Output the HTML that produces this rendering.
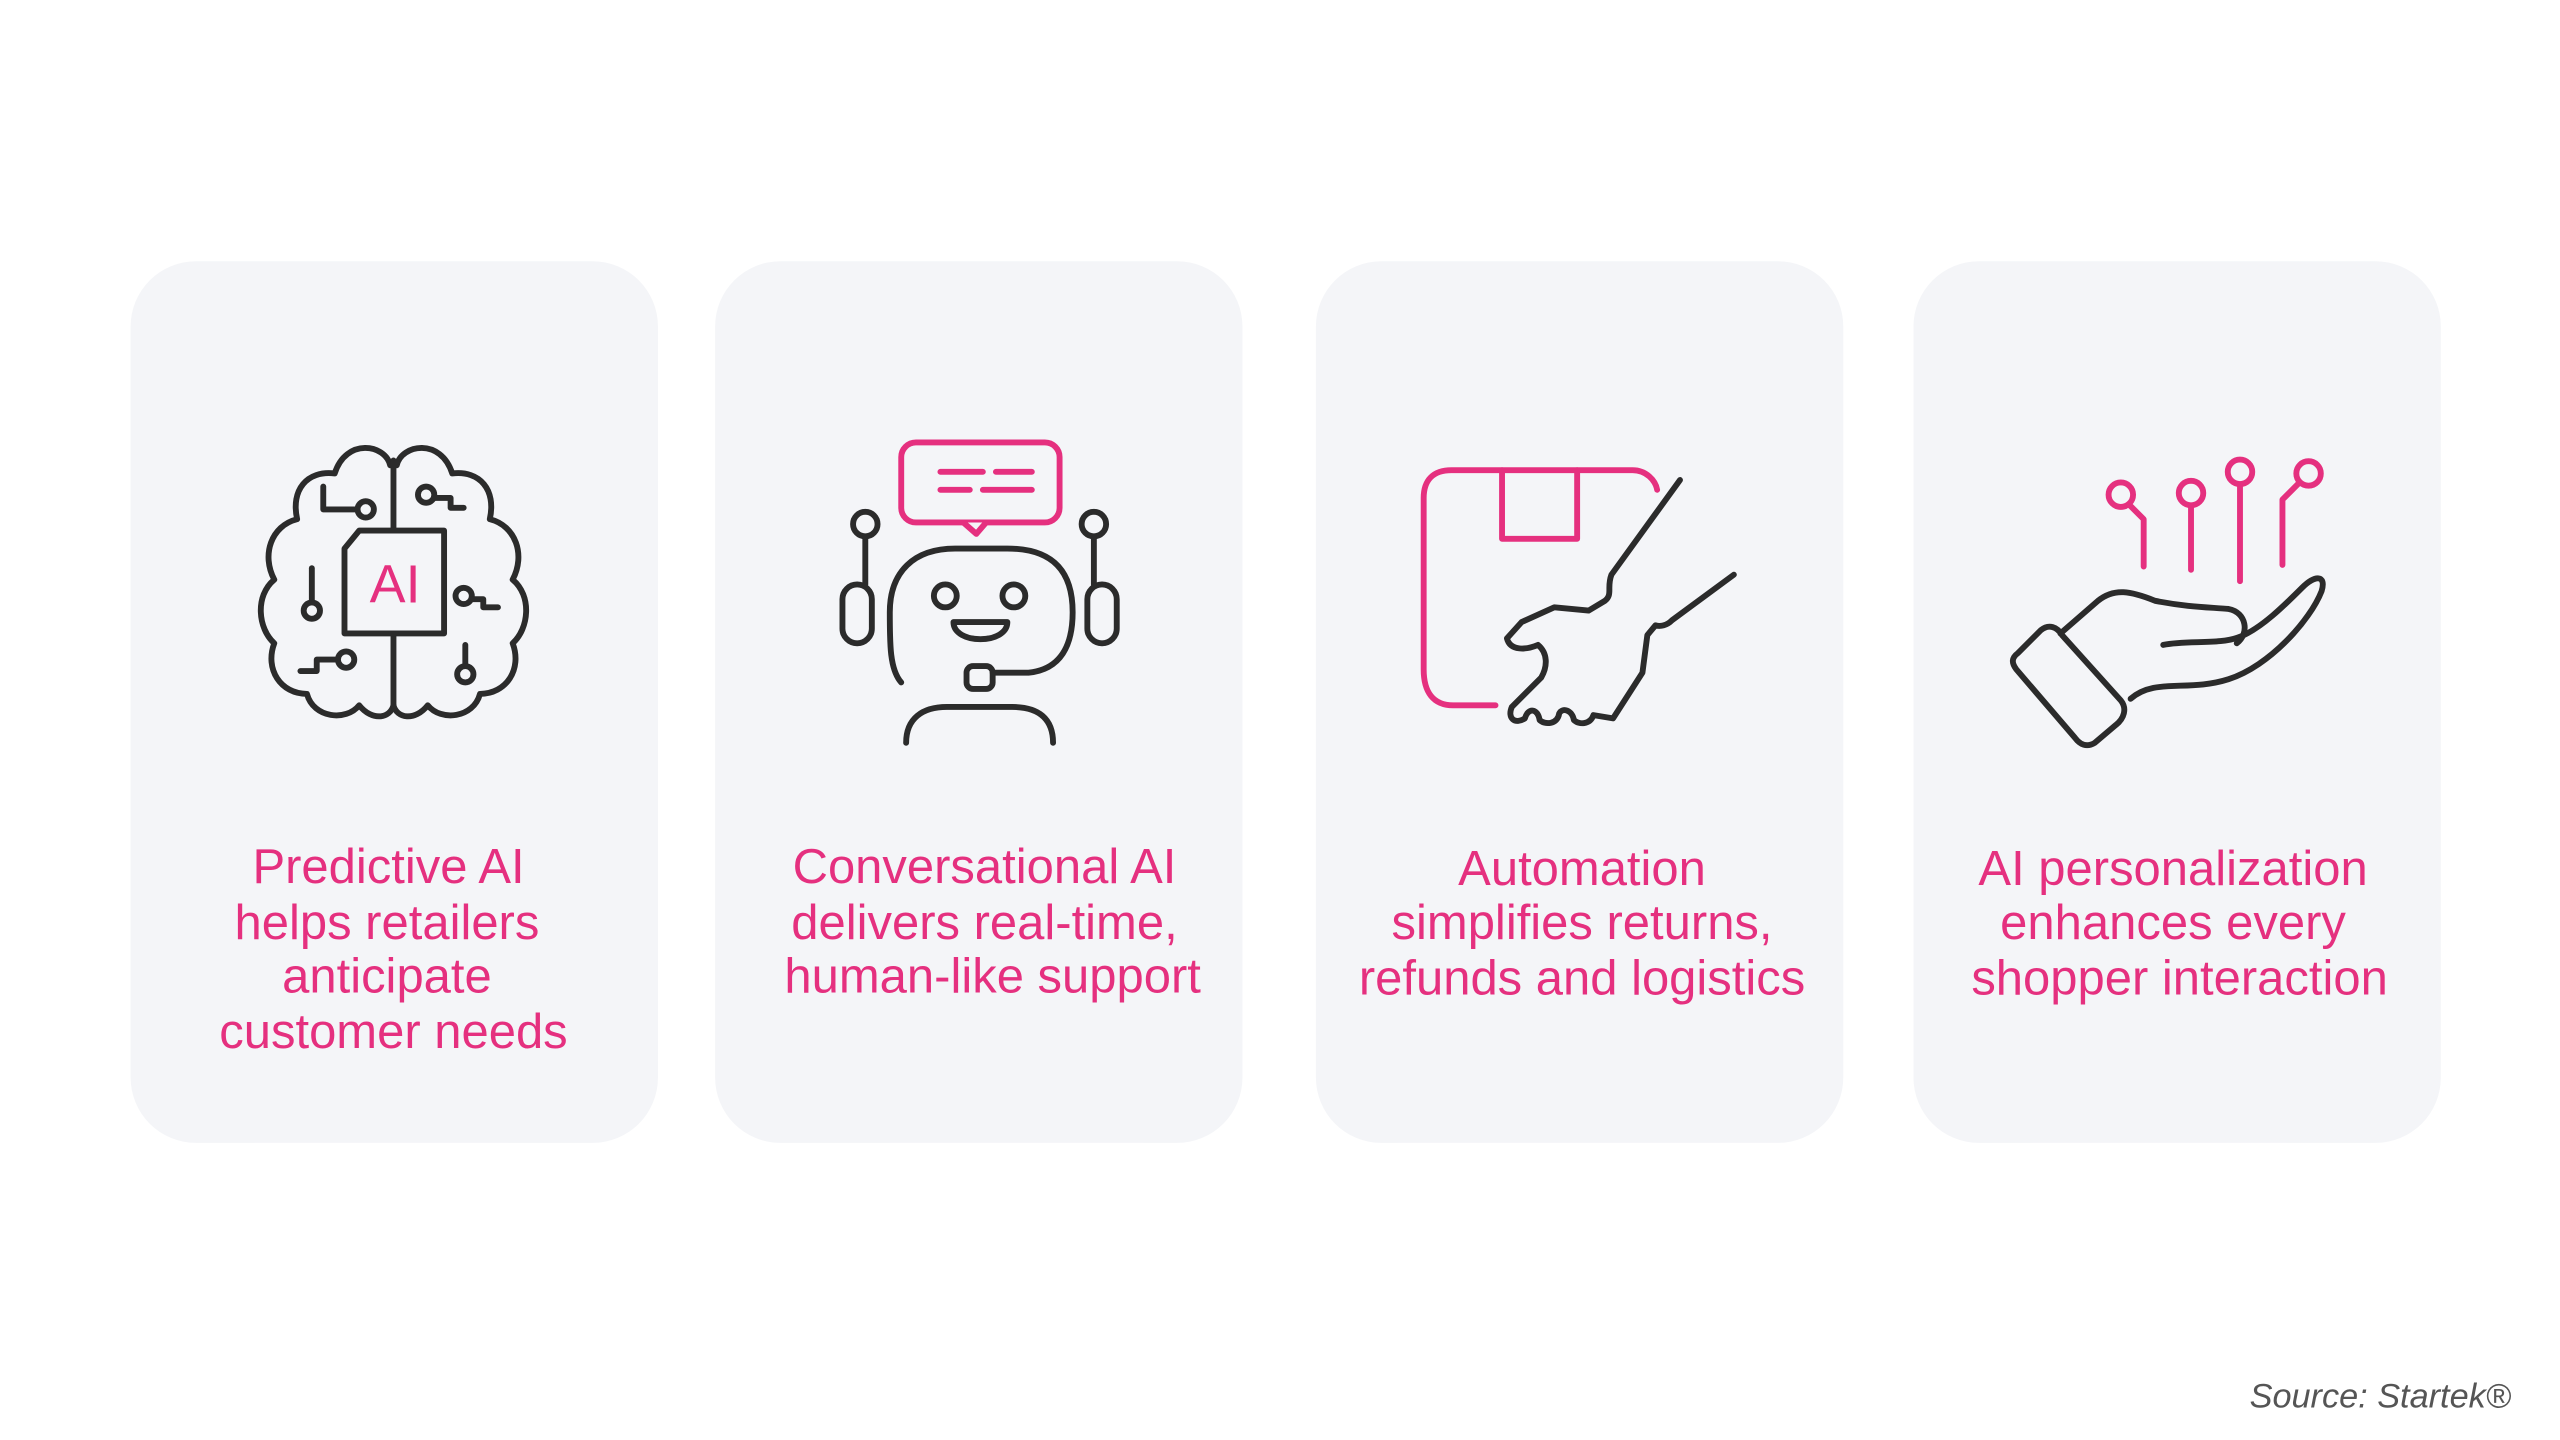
<!DOCTYPE html>
<html><head><meta charset="utf-8"><style>
html,body{margin:0;padding:0;background:#fff;}
svg{display:block}
text{font-family:"Liberation Sans",sans-serif;}
</style></head><body>
<svg width="2560" height="1440" viewBox="0 0 1568 882" preserveAspectRatio="none" xmlns="http://www.w3.org/2000/svg">
<rect width="1568" height="882" fill="#fff"/>
<g fill="#f4f5f8">
<rect x="80" y="160" width="323" height="540" rx="40"/>
<rect x="438" y="160" width="323" height="540" rx="40"/>
<rect x="806" y="160" width="323" height="540" rx="40"/>
<rect x="1172" y="160" width="323" height="540" rx="40"/>
</g>
<g fill="none" stroke="#2b2b2b" stroke-width="3.6" stroke-linecap="round" stroke-linejoin="round">
<path d="M239,285 C236,272 212,268 205,290 C188,288 178,300 182,318 C166,322 160,340 168,355 C156,365 158,385 168,394 C162,410 172,425 188,425 C192,440 212,442 220,432 C228,442 239,440 241,432"/>
<path d="M243,285 C246,272 270,268 277,290 C294,288 304,300 300,318 C316,322 322,340 314,355 C326,365 324,385 314,394 C320,410 310,425 294,425 C290,440 270,442 262,432 C254,442 243,440 241,432"/>
<path d="M241,282 V325 M241,388 V432"/>
<path d="M220,325 H272 V388 H211 V336 Z"/>
<path d="M198,298 V312 H218"/><circle cx="224" cy="312" r="5"/>
<circle cx="261" cy="303" r="5"/><path d="M266,305 H276 V311 H284"/>
<path d="M191,348 V368"/><circle cx="191" cy="374" r="5"/>
<circle cx="284" cy="365" r="5"/><path d="M289,367 H296 V372 H305"/>
<path d="M184,411 H194 V404 H206"/><circle cx="212" cy="404" r="5"/>
<path d="M285,395 V407"/><circle cx="285" cy="413" r="5"/>
<path d="M552,418 C545,410 545,395 545,375 C545,350 560,336 585,336 H617 C645,336 657,350 657,375 C657,395 650,410 630,412 H608"/>
<circle cx="579" cy="365" r="7"/><circle cx="621" cy="365" r="7"/>
<path d="M584,381 H617 C617,395 584,395 584,381 Z"/>
<rect x="516" y="358" width="18" height="36" rx="9"/><rect x="666" y="358" width="18" height="36" rx="9"/>
<path d="M530,329 V358 M670,329 V358"/><circle cx="530" cy="321" r="7.5"/><circle cx="670" cy="321" r="7.5"/>
<rect x="592" y="408" width="16" height="14" rx="4"/>
<path d="M555,455 C555,440 565,433 580,433 H620 C636,433 645,440 645,455"/>
<path d="M1029,294 L987,352 C984,360 988,364 983,368 L973,374 L952,372 L932,381 L923,391 C925,399 935,398 942,395 C948,400 948,408 944,415 L926,433 C923,440 928,444 934,440 C936,433 942,434 943,441 C946,444 954,444 955,437 C957,433 963,435 964,441 C967,444 974,444 976,438 L988,440 L1006,412 L1009,389 L1014,383 C1017,384 1021,383 1024,380 L1062,352"/>
<path d="M1236,400 L1250,386 C1255,382 1260,384 1263,389 L1299,429 C1303,434 1301,440 1296,444 L1283,455 C1278,458 1274,456 1271,452 L1235,410 C1232,406 1232,403 1236,400 Z"/>
<path d="M1262,388 L1285,368 C1295,360 1305,362 1320,368 C1340,372 1355,372 1365,373 C1376,375 1378,388 1370,394"/>
<path d="M1325,395 C1340,392 1360,395 1372,390 C1385,385 1400,370 1410,360 C1418,352 1425,352 1422,362 C1415,380 1390,408 1365,416 C1340,424 1320,415 1305,428"/>
</g>
<g fill="none" stroke="#e5307f" stroke-width="3.6" stroke-linecap="round" stroke-linejoin="round">
<rect x="552" y="271" width="97" height="49" rx="9"/>
<path d="M590,320 L598,327 L604,320" fill="#f4f5f8"/>
<path d="M576,289 H602 M610,289 H632 M576,300 H594 M602,300 H632"/>
<path d="M916,432 H890 C878,432 872,424 872,410 V305 C872,294 878,288 889,288 H1000 C1008,288 1014,294 1015,300"/>
<path d="M920,288 V330 H966 V288"/>
<circle cx="1299" cy="303" r="7.5"/><path d="M1304,309 L1313,318 V347"/>
<circle cx="1342" cy="302" r="7.5"/><path d="M1342,310 V349"/>
<circle cx="1372" cy="289" r="7.5"/><path d="M1372,297 V356"/>
<circle cx="1414" cy="290" r="7.5"/><path d="M1408,296 L1398,306 V346"/>
</g>
<text x="242" y="369" font-size="33" fill="#e5307f" text-anchor="middle">AI</text>
<g fill="#e5307f" font-size="30" text-anchor="middle">
<text x="238" y="541">Predictive AI</text><text x="237" y="575">helps retailers</text><text x="237" y="608">anticipate</text><text x="241" y="642">customer needs</text>
<text x="603" y="541">Conversational AI</text><text x="603" y="575">delivers real-time,</text><text x="608" y="608">human-like support</text>
<text x="969" y="542">Automation</text><text x="969" y="575">simplifies returns,</text><text x="969" y="609">refunds and logistics</text>
<text x="1331" y="542">AI personalization</text><text x="1331" y="575">enhances every</text><text x="1335" y="609">shopper interaction</text>
</g>
<text x="1538" y="862" font-size="21" font-style="italic" fill="#555" text-anchor="end">Source: Startek®</text>
</svg>
</body></html>
